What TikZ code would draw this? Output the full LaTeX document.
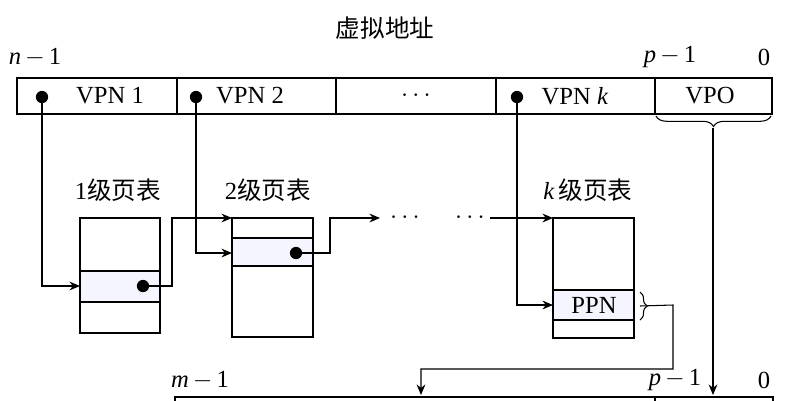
\documentclass[tikz,border=0pt]{standalone}
\usepackage{fontspec}
\setmainfont{Liberation Serif}
\newfontfamily\cjk{Noto Sans CJK SC}
\usetikzlibrary{decorations.pathreplacing,arrows.meta}
\tikzset{box/.style={draw,line width=1.4pt},
  hl/.style={fill=blue!4,draw,line width=1.4pt},
  link/.style={-{Stealth[length=6pt,width=5pt]},semithick},
  pt/.style={circle,fill,inner sep=0pt,minimum size=7pt}}
\begin{document}
\begin{tikzpicture}[x=0.02cm,y=-0.02cm,font=\fontsize{14}{16}\selectfont]
\useasboundingbox (0,0) rectangle (812,400);
% virtual address
\node at (385,28) {\cjk 虚拟地址};
\node at (35,57) {\textit{n}\,$-$\,1};
\node at (670,57) {\textit{p}\,$-$\,1};
\node at (764,57) {0};
\draw[box] (17,78) rectangle (772,114);
\foreach \x in {177,336,496,655} \draw[box] (\x,78)--(\x,114);
\node at (110,96) {VPN 1};
\node at (250,96) {VPN 2};
\node at (416,96) {$\cdots$};
\node at (575,96) {VPN \textit{k}};
\node at (710,96) {VPO};
\node[pt] (v1) at (42,97) {};
\node[pt] (v2) at (196,97) {};
\node[pt] (vk) at (517,97) {};
\draw[decorate,decoration={brace,mirror,amplitude=6pt},semithick] (656,116)--(771,116)
  coordinate[pos=0.5] (vpo);
% page tables
\node at (118,190) {1\cjk 级页表};
\node at (268,190) {2\cjk 级页表};
\node at (588,190) {\textit{k}\,\cjk 级页表};
\draw[hl] (80,271) rectangle (160,302);
\draw[box] (80,218) rectangle (160,333);
\draw[hl] (232,238) rectangle (313,266);
\draw[box] (232,218) rectangle (313,337);
\draw[hl] (553,290) rectangle (634,320);
\draw[box] (553,218) rectangle (634,338);
\node at (594,305) {PPN};
\node[pt] (t1) at (143,286) {};
\node[pt] (t2) at (296,253) {};
\draw[decorate,decoration={brace,amplitude=4pt},semithick] (640,292)--(640,320)
  coordinate[pos=0.5] (ppn);
\node at (405,218) {$\cdots$};
\node at (470,218) {$\cdots$};
\coordinate (d1) at (380,218);
\coordinate (d2) at (490,218);
% physical address
\node at (200,380) {\textit{m}\,$-$\,1};
\node at (675,380) {\textit{p}\,$-$\,1};
\node at (764,380) {0};
\draw[box] (175,397) rectangle (773,420);
\draw[box] (655,397)--(655,420);
\coordinate (pa) at (421,395);
\coordinate (po) at (713,395);
% links
\draw[link] (v1.center) |- (80,286);
\draw[link] (v2.center) |- (232,253);
\draw[link] (vk.center) |- (553,305);
\draw[link] (t1.center) -| (172,218) -- (232,218);
\draw[link] (t2.center) -| (330,218) -- (d1);
\draw[link] (d2) -- (553,218);
\draw[link] (ppn) -- (673,305) |- (421,369) -- (pa);
\draw[link] (713,128) -- (po);
\end{tikzpicture}
\end{document}
